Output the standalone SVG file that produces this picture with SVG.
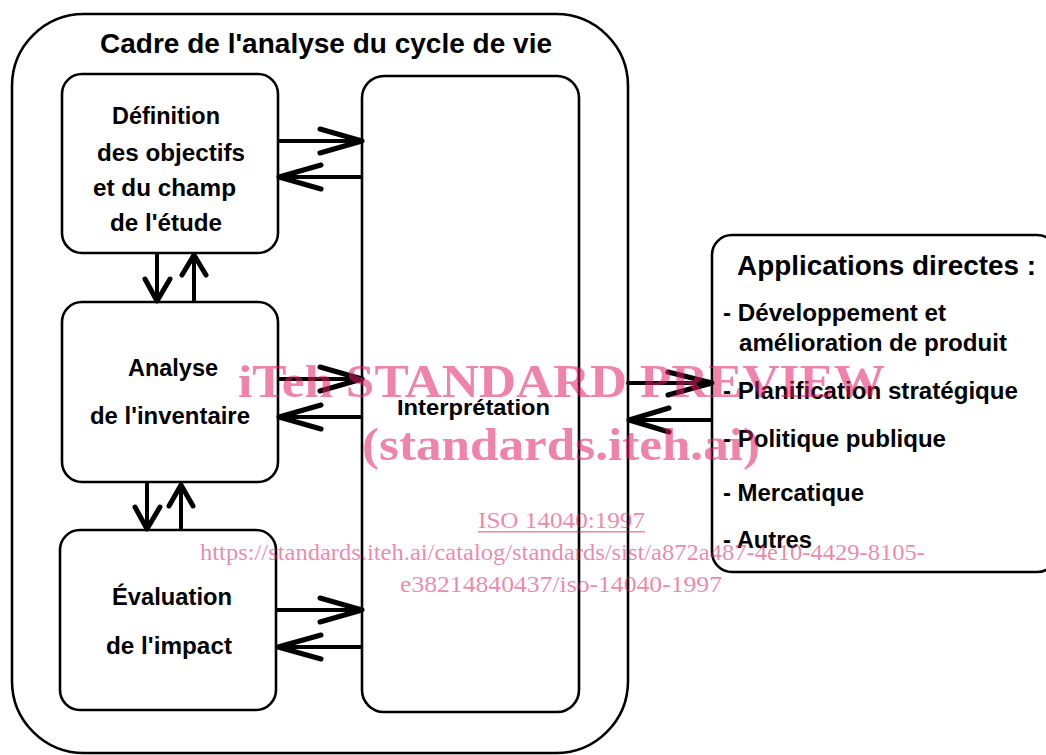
<svg xmlns="http://www.w3.org/2000/svg" width="1046" height="755" viewBox="0 0 1046 755">
  <style>
    .box { fill: #ffffff; stroke: #000000; stroke-width: 2.6; }
    .frame { fill: none; stroke: #000000; stroke-width: 2.6; }
    .lbl { font-family: "Liberation Sans", Arial, sans-serif; font-weight: bold; fill: #000000; }
    .shaft { stroke: #000000; stroke-width: 4; stroke-linecap: round; fill: none; }
    .head { stroke: #000000; stroke-width: 5; stroke-linecap: round; stroke-linejoin: round; fill: none; }
    .wm { font-family: "Liberation Serif", "Times New Roman", serif; fill: #e11e64; fill-opacity: 0.55; }
  </style>

  <!-- outer frame -->
  <g id="cadre">
    <rect class="frame" x="12" y="14" width="616" height="739" rx="72" ry="72"/>
    <text class="lbl" x="100" y="53" font-size="27" textLength="452" lengthAdjust="spacingAndGlyphs">Cadre de l'analyse du cycle de vie</text>
  </g>

  <g id="definition">
    <rect class="box" x="62" y="74" width="216" height="179" rx="20" ry="20"/>
    <text class="lbl" font-size="23">
      <tspan x="112" y="124" textLength="108" lengthAdjust="spacingAndGlyphs">Définition</tspan>
      <tspan x="97" y="161" textLength="148" lengthAdjust="spacingAndGlyphs">des objectifs</tspan>
      <tspan x="93" y="196" textLength="143" lengthAdjust="spacingAndGlyphs">et du champ</tspan>
      <tspan x="110" y="231" textLength="112" lengthAdjust="spacingAndGlyphs">de l'étude</tspan>
    </text>
  </g>

  <g id="inventaire">
    <rect class="box" x="62" y="302" width="216" height="180" rx="20" ry="20"/>
    <text class="lbl" font-size="23">
      <tspan x="128" y="376" textLength="90" lengthAdjust="spacingAndGlyphs">Analyse</tspan>
      <tspan x="90" y="424" textLength="160" lengthAdjust="spacingAndGlyphs">de l'inventaire</tspan>
    </text>
  </g>

  <g id="impact">
    <rect class="box" x="60" y="530" width="216" height="180" rx="20" ry="20"/>
    <text class="lbl" font-size="23">
      <tspan x="112" y="605" textLength="120" lengthAdjust="spacingAndGlyphs">Évaluation</tspan>
      <tspan x="106" y="654" textLength="126" lengthAdjust="spacingAndGlyphs">de l'impact</tspan>
    </text>
  </g>

  <g id="interpretation">
    <rect class="box" x="362" y="76" width="217" height="636" rx="22" ry="22"/>
    <text class="lbl" x="397" y="415" font-size="22" textLength="153" lengthAdjust="spacingAndGlyphs">Interprétation</text>
  </g>

  <g id="applications">
    <rect class="box" x="712" y="235" width="345" height="337" rx="20" ry="20"/>
    <text class="lbl" x="737" y="275" font-size="28" textLength="299" lengthAdjust="spacingAndGlyphs">Applications directes :</text>
    <text class="lbl" font-size="23">
      <tspan x="723" y="321" textLength="223" lengthAdjust="spacingAndGlyphs">- Développement et</tspan>
      <tspan x="739" y="351" textLength="268" lengthAdjust="spacingAndGlyphs">amélioration de produit</tspan>
      <tspan x="723" y="399" textLength="295" lengthAdjust="spacingAndGlyphs">- Planification stratégique</tspan>
      <tspan x="723" y="447" textLength="223" lengthAdjust="spacingAndGlyphs">- Politique publique</tspan>
      <tspan x="723" y="501" textLength="141" lengthAdjust="spacingAndGlyphs">- Mercatique</tspan>
      <tspan x="723" y="548" textLength="89" lengthAdjust="spacingAndGlyphs">- Autres</tspan>
    </text>
  </g>

  <!-- connectors: open V arrowheads -->
  <g id="connectors">
    <!-- definition <-> interpretation -->
    <line class="shaft" x1="279" y1="141" x2="361" y2="141"/>
    <polyline class="head" points="320,129 362,141 320,153"/>
    <line class="shaft" x1="279" y1="177" x2="361" y2="177"/>
    <polyline class="head" points="321,165 279,177 321,189"/>

    <!-- inventaire <-> interpretation -->
    <line class="shaft" x1="279" y1="379" x2="361" y2="379"/>
    <polyline class="head" points="320,367 362,379 320,391"/>
    <line class="shaft" x1="279" y1="417" x2="361" y2="417"/>
    <polyline class="head" points="321,405 279,417 321,429"/>

    <!-- impact <-> interpretation -->
    <line class="shaft" x1="277" y1="610" x2="361" y2="610"/>
    <polyline class="head" points="320,598 362,610 320,622"/>
    <line class="shaft" x1="277" y1="647" x2="361" y2="647"/>
    <polyline class="head" points="321,635 278,647 321,659"/>

    <!-- definition <-> inventaire -->
    <line class="shaft" x1="157" y1="254" x2="157" y2="301"/>
    <polyline class="head" points="145,279 157,301 170,279"/>
    <line class="shaft" x1="194" y1="256" x2="194" y2="301"/>
    <polyline class="head" points="182,275 194,255 206,275"/>

    <!-- inventaire <-> impact -->
    <line class="shaft" x1="147" y1="483" x2="147" y2="529"/>
    <polyline class="head" points="135,507 147,529 160,507"/>
    <line class="shaft" x1="181" y1="485" x2="181" y2="529"/>
    <polyline class="head" points="169,506 181,485 193,506"/>

    <!-- cadre <-> applications -->
    <line class="shaft" x1="628" y1="383" x2="711" y2="383"/>
    <polyline class="head" points="668,372 712,383 668,395"/>
    <line class="shaft" x1="629" y1="420" x2="711" y2="420"/>
    <polyline class="head" points="669,408 629,420 669,432"/>
  </g>

  <!-- overprinted catalogue stamp -->
  <g id="stamp">
    <text class="wm" x="238" y="397" font-size="46" font-weight="bold" textLength="647" lengthAdjust="spacingAndGlyphs">iTeh STANDARD PREVIEW</text>
    <text class="wm" x="362" y="460" font-size="46" font-weight="bold" textLength="398" lengthAdjust="spacingAndGlyphs">(standards.iteh.ai)</text>
    <text class="wm" x="478" y="528" font-size="23" textLength="167" lengthAdjust="spacingAndGlyphs">ISO 14040:1997</text>
    <rect x="478" y="531" width="167" height="1.5" fill="#e11e64" fill-opacity="0.55"/>
    <text class="wm" x="200" y="560" font-size="23" textLength="725" lengthAdjust="spacingAndGlyphs">https://standards.iteh.ai/catalog/standards/sist/a872a487-4e10-4429-8105-</text>
    <text class="wm" x="400" y="592" font-size="23" textLength="322" lengthAdjust="spacingAndGlyphs">e38214840437/iso-14040-1997</text>
  </g>
</svg>
